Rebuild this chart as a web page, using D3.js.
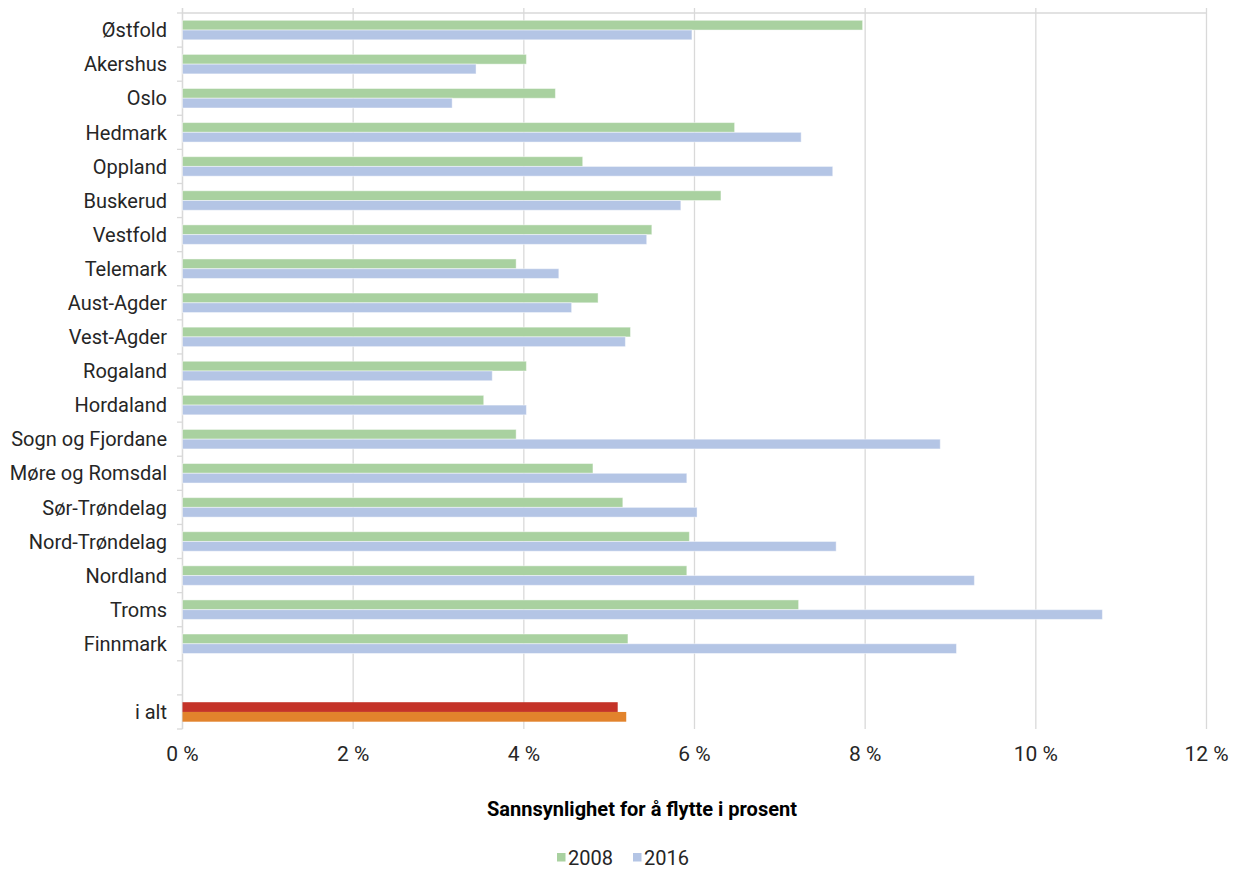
<!DOCTYPE html>
<html>
<head>
<meta charset="utf-8">
<script src="https://cdn.jsdelivr.net/npm/d3@7"></script>
<style>
  html, body { margin: 0; padding: 0; background: #ffffff; }
  svg { display: block; }
  text { font-family: Roboto, "Open Sans", sans-serif; }
</style>
</head>
<body>
<svg id="chart" width="1235" height="870"></svg>
<script>
// ---- data ----
const regions = ["Østfold", "Akershus", "Oslo", "Hedmark", "Oppland", "Buskerud", "Vestfold",
  "Telemark", "Aust-Agder", "Vest-Agder", "Rogaland", "Hordaland", "Sogn og Fjordane",
  "Møre og Romsdal", "Sør-Trøndelag", "Nord-Trøndelag", "Nordland", "Troms", "Finnmark"];
const values2008 = [7.97, 4.03, 4.37, 6.47, 4.69, 6.31, 5.50, 3.91, 4.87, 5.25, 4.03, 3.53, 3.91,
  4.81, 5.16, 5.94, 5.91, 7.22, 5.22];
const values2016 = [5.97, 3.44, 3.16, 7.25, 7.62, 5.84, 5.44, 4.41, 4.56, 5.19, 3.63, 4.03, 8.88,
  5.91, 6.03, 7.66, 9.28, 10.78, 9.07];
const totalLabel = "i alt";
const total2008 = 5.10;
const total2016 = 5.20;
const xTicks = [0, 2, 4, 6, 8, 10, 12];
const seriesNames = ["2008", "2016"];
const axisTitle = "Sannsynlighet for å flytte i prosent";

(function () {
// ---- layout ----
const svg = d3.select("#chart");
const pLeft = 182.5, pRight = 1206.5, pTop = 13, pBottom = 729;
const categories = [...regions, "", totalLabel];

const x = d3.scaleLinear().domain([0, 12]).range([pLeft, pRight]);
const y = d3.scaleBand().domain(categories.map((c, i) => i)).range([pTop, pBottom]).padding(0);
const bw = y.bandwidth();
const barH = bw / 3.5;

const colors = { g2008: "#a9d1a0", g2016: "#b4c5e5", t2008: "#c43328", t2016: "#e2832c" };
const grid = "#d9d9d9";

// vertical gridlines
svg.append("g").selectAll("line").data(xTicks).join("line")
  .attr("x1", d => x(d)).attr("x2", d => x(d))
  .attr("y1", 8).attr("y2", pBottom)
  .attr("stroke", grid).attr("stroke-width", 1.3);

// top horizontal line
svg.append("line").attr("x1", pLeft).attr("x2", pRight).attr("y1", pTop).attr("y2", pTop)
  .attr("stroke", grid).attr("stroke-width", 1.3);

// left axis with ticks
svg.append("line").attr("x1", pLeft).attr("x2", pLeft).attr("y1", 8).attr("y2", pBottom)
  .attr("stroke", grid).attr("stroke-width", 1.3);
const tickYs = categories.map((c, i) => y(i)).concat([pBottom]);
svg.append("g").selectAll("line").data(tickYs).join("line")
  .attr("x1", pLeft - 5.5).attr("x2", pLeft)
  .attr("y1", d => d).attr("y2", d => d)
  .attr("stroke", grid).attr("stroke-width", 1.3);

// bars
const rows = regions.map((r, i) => ({ i, a: values2008[i], b: values2016[i], ca: colors.g2008, cb: colors.g2016, stroke: true }));
rows.push({ i: categories.length - 1, a: total2008, b: total2016, ca: colors.t2008, cb: colors.t2016, stroke: false });

const gBars = svg.append("g");
rows.forEach(r => {
  const c = y(r.i) + bw / 2;
  [[r.a, r.ca, c - barH], [r.b, r.cb, c]].forEach(([v, col, yy]) => {
    gBars.append("rect")
      .attr("x", x(0)).attr("y", yy)
      .attr("width", x(v) - x(0)).attr("height", barH)
      .attr("fill", col)
      .attr("stroke", r.stroke ? "#ffffff" : "none")
      .attr("stroke-opacity", 0.45)
      .attr("stroke-width", 1);
  });
});

// category labels
svg.append("g").selectAll("text").data(categories).join("text")
  .attr("x", 167).attr("y", (d, i) => y(i) + bw / 2)
  .attr("dy", "0.36em")
  .attr("text-anchor", "end")
  .attr("font-size", 20)
  .attr("fill", "#262626")
  .text(d => d);

// x tick labels
svg.append("g").selectAll("text").data(xTicks).join("text")
  .attr("x", d => x(d)).attr("y", 761)
  .attr("text-anchor", "middle")
  .attr("font-size", 21)
  .attr("fill", "#262626")
  .text(d => d + " %");

// axis title
svg.append("text")
  .attr("x", 642).attr("y", 816)
  .attr("text-anchor", "middle")
  .attr("font-size", 20)
  .attr("font-weight", "bold")
  .attr("fill", "#000000")
  .attr("textLength", 310).attr("lengthAdjust", "spacingAndGlyphs")
  .text(axisTitle);

// legend
const legend = svg.append("g");
const legendItems = [
  { name: seriesNames[0], color: colors.g2008, x: 557 },
  { name: seriesNames[1], color: colors.g2016, x: 633 }
];
legendItems.forEach(it => {
  legend.append("rect").attr("x", it.x).attr("y", 853).attr("width", 8.5).attr("height", 8.5).attr("fill", it.color);
  legend.append("text").attr("x", it.x + 11).attr("y", 865)
    .attr("font-size", 20).attr("fill", "#262626").text(it.name);
});
})();
</script>
</body>
</html>
